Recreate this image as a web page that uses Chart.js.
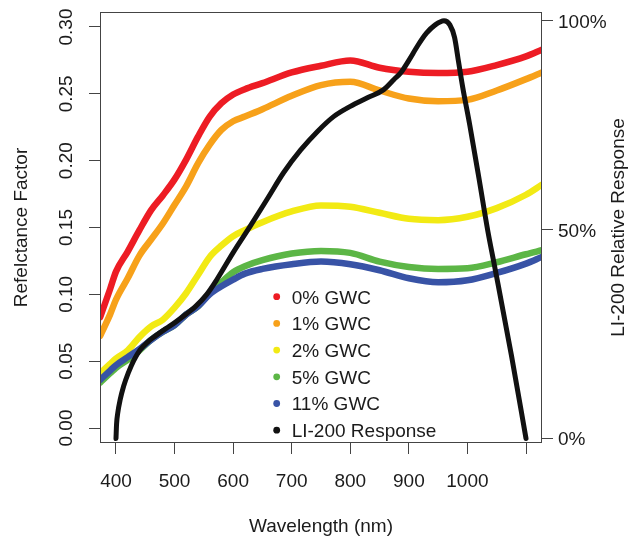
<!DOCTYPE html>
<html>
<head>
<meta charset="utf-8">
<script src="https://cdn.jsdelivr.net/npm/chart.js@4"></script>
<style>
  html, body { margin: 0; padding: 0; background: #ffffff; }
  canvas { display: block; }
</style>
</head>
<body>
<canvas id="chart" width="633" height="537"></canvas>
<script>
// Reflectance spectra of the soil samples at several gravimetric water contents
const wavelengthNm = [373, 390, 400, 420, 440, 460, 480, 500, 520, 540, 560, 580, 600, 620, 650, 700, 750, 800, 850, 900, 950, 1000, 1050, 1100, 1127];
const gwc0  = [0.083, 0.104, 0.117, 0.132, 0.148, 0.163, 0.174, 0.186, 0.201, 0.218, 0.233, 0.243, 0.2495, 0.2535, 0.258, 0.266, 0.271, 0.275, 0.2695, 0.2665, 0.2655, 0.2665, 0.2715, 0.278, 0.283];
const gwc1  = [0.069, 0.085, 0.096, 0.112, 0.129, 0.141, 0.153, 0.167, 0.181, 0.198, 0.212, 0.223, 0.2295, 0.233, 0.2385, 0.2485, 0.2565, 0.259, 0.2525, 0.2465, 0.2445, 0.2455, 0.2525, 0.261, 0.266];
const gwc2  = [0.041, 0.048, 0.052, 0.058, 0.068, 0.076, 0.081, 0.090, 0.101, 0.1145, 0.128, 0.1365, 0.1435, 0.148, 0.154, 0.162, 0.1665, 0.1655, 0.161, 0.1565, 0.1555, 0.158, 0.1645, 0.1745, 0.182];
const gwc5  = [0.034, 0.041, 0.045, 0.051, 0.058, 0.066, 0.072, 0.077, 0.085, 0.091, 0.101, 0.109, 0.1165, 0.121, 0.1255, 0.1305, 0.1325, 0.131, 0.1245, 0.1205, 0.119, 0.1195, 0.124, 0.130, 0.133];
const gwc11 = [0.036, 0.043, 0.047, 0.053, 0.059, 0.066, 0.072, 0.077, 0.085, 0.091, 0.100, 0.106, 0.111, 0.1155, 0.119, 0.1225, 0.1245, 0.1225, 0.118, 0.112, 0.109, 0.1105, 0.116, 0.123, 0.128];

// Spectral response of the LI-200 pyranometer (percent of peak)
const li200Nm  = [400, 401, 403, 407, 413, 421, 430, 441, 455, 467, 485, 501, 520, 535, 555, 572, 600, 630, 659, 686, 715, 744, 772, 800, 830, 857, 875, 886, 900, 915, 930, 945, 960, 970, 978, 985, 992, 1004, 1020, 1035, 1046, 1075, 1100];
const li200Pct = [0, 3.5, 6.1, 9.2, 12.5, 15.7, 18.6, 21.2, 23.2, 24.5, 26.3, 27.8, 29.8, 31.5, 34.5, 38, 44.5, 51, 57.5, 63.6, 69, 73.5, 77.1, 79.5, 81.6, 83.5, 86, 87.5, 90.5, 94, 97, 99, 100, 99, 96, 90, 84, 75, 62, 49.5, 41.5, 20, 0];

const seriesLabels = ['0% GWC', '1% GWC', '2% GWC', '5% GWC', '11% GWC', 'LI-200 Response'];

// Axis ticks and their labels
const xTicks = [400, 500, 600, 700, 800, 900, 1000, 1100];
const xTickLabels = ['400', '500', '600', '700', '800', '900', '1000', ''];
const leftTicks = [0, 0.05, 0.10, 0.15, 0.20, 0.25, 0.30];
const leftTickLabels = ['0.00', '0.05', '0.10', '0.15', '0.20', '0.25', '0.30'];
const rightTicks = [0, 50, 100];
const rightTickLabels = ['0%', '50%', '100%'];

const FONT = "'Liberation Sans', Arial, Helvetica, sans-serif";
const INK = '#1b1b1b';
const FRAME = '#444444';
const COLORS = ['#ED1C24', '#F7A11A', '#F2EA14', '#5CB646', '#3853A6', '#111111'];

function toPoints(xs, ys) {
  return xs.map((x, i) => ({ x: x, y: ys[i] }));
}

function reflectanceSet(idx, values) {
  return {
    label: seriesLabels[idx],
    data: toPoints(wavelengthNm, values),
    borderColor: COLORS[idx],
    backgroundColor: COLORS[idx],
    borderWidth: 6.5,
    pointRadius: 0,
    fill: false,
    cubicInterpolationMode: 'monotone',
    borderCapStyle: 'round',
    borderJoinStyle: 'round',
    clip: 0,
    yAxisID: 'y',
    order: 5 - idx
  };
}

// Box, tick labels, axis titles and the in-plot legend
const framePlugin = {
  id: 'rFrame',
  afterDraw(chart) {
    const ctx = chart.ctx;
    const a = chart.chartArea;
    const sx = chart.scales.x, sy = chart.scales.y, sy2 = chart.scales.y2;
    ctx.save();

    ctx.strokeStyle = FRAME;
    ctx.lineWidth = 1;
    ctx.strokeRect(a.left + 0.5, a.top + 0.5, a.right - a.left - 1, a.bottom - a.top - 1);

    ctx.fillStyle = INK;
    ctx.font = '19px ' + FONT;
    ctx.textBaseline = 'alphabetic';

    ctx.textAlign = 'center';
    xTicks.forEach((v, i) => {
      ctx.fillText(xTickLabels[i], sx.getPixelForValue(v), a.bottom + 44);
    });

    leftTicks.forEach((v, i) => {
      ctx.save();
      ctx.translate(a.left - 28, sy.getPixelForValue(v));
      ctx.rotate(-Math.PI / 2);
      ctx.fillText(leftTickLabels[i], 0, 0);
      ctx.restore();
    });

    ctx.textAlign = 'left';
    rightTicks.forEach((v, i) => {
      ctx.fillText(rightTickLabels[i], a.right + 16, sy2.getPixelForValue(v) + 7);
    });

    const midY = (a.top + a.bottom) / 2;
    ctx.textAlign = 'center';
    ctx.fillText('Wavelength (nm)', (a.left + a.right) / 2, 532);

    ctx.save();
    ctx.translate(26.5, midY);
    ctx.rotate(-Math.PI / 2);
    ctx.fillText('Refelctance Factor', 0, 0);
    ctx.restore();

    ctx.save();
    ctx.translate(623.5, midY);
    ctx.rotate(-Math.PI / 2);
    ctx.fillText('LI-200 Relative Response', 0, 0);
    ctx.restore();

    // legend
    const lx = a.left + 176.7;
    const ly = a.top + 284.7;
    const step = 26.7;
    ctx.textAlign = 'left';
    chart.data.datasets.forEach((ds, i) => {
      const cy = ly + i * step;
      ctx.beginPath();
      ctx.fillStyle = ds.borderColor;
      ctx.arc(lx, cy, 3.4, 0, Math.PI * 2);
      ctx.fill();
      ctx.fillStyle = INK;
      ctx.fillText(ds.label, lx + 15, cy + 6.8);
    });

    ctx.restore();
  }
};

const tickGrid = {
  display: true,
  drawOnChartArea: false,
  drawTicks: true,
  tickLength: 11,
  tickColor: FRAME,
  tickWidth: 1
};

new Chart(document.getElementById('chart'), {
  type: 'line',
  data: {
    datasets: [
      reflectanceSet(0, gwc0),
      reflectanceSet(1, gwc1),
      reflectanceSet(2, gwc2),
      reflectanceSet(3, gwc5),
      reflectanceSet(4, gwc11),
      {
        label: seriesLabels[5],
        data: toPoints(li200Nm, li200Pct),
        borderColor: COLORS[5],
        backgroundColor: COLORS[5],
        borderWidth: 5,
        pointRadius: 0,
        fill: false,
        cubicInterpolationMode: 'monotone',
        borderCapStyle: 'round',
        borderJoinStyle: 'round',
        clip: 0,
        yAxisID: 'y2',
        order: 0
      }
    ]
  },
  options: {
    responsive: false,
    animation: false,
    events: [],
    layout: { padding: { top: 12, left: 0, right: 0, bottom: 0 } },
    plugins: {
      legend: { display: false },
      tooltip: { enabled: false }
    },
    scales: {
      x: {
        type: 'linear',
        position: 'bottom',
        min: 372.7,
        max: 1127.3,
        grid: tickGrid,
        border: { display: false },
        ticks: { display: false },
        afterBuildTicks: (s) => { s.ticks = xTicks.map(v => ({ value: v })); },
        afterFit: (s) => { s.height = 94; }
      },
      y: {
        type: 'linear',
        position: 'left',
        min: -0.01122,
        max: 0.31122,
        grid: tickGrid,
        border: { display: false },
        ticks: { display: false },
        afterBuildTicks: (s) => { s.ticks = leftTicks.map(v => ({ value: v })); },
        afterFit: (s) => { s.width = 100; }
      },
      y2: {
        type: 'linear',
        position: 'right',
        min: -1.08,
        max: 102.08,
        grid: tickGrid,
        border: { display: false },
        ticks: { display: false },
        afterBuildTicks: (s) => { s.ticks = rightTicks.map(v => ({ value: v })); },
        afterFit: (s) => { s.width = 91; }
      }
    }
  },
  plugins: [framePlugin]
});
</script>
</body>
</html>
